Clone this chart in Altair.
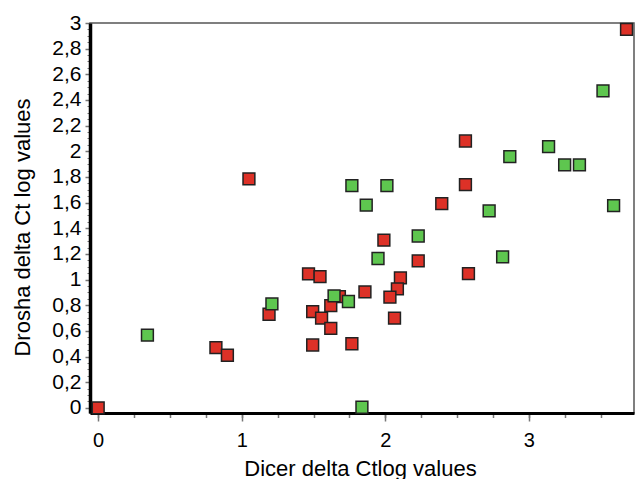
import altair as alt
import pandas as pd
import numpy as np

# Data
red_x = [0.0, 3.68, 1.05, 0.82, 0.90, 1.19, 1.465, 1.545, 1.494, 1.556, 1.494, 2.393, 2.558,
         2.558, 1.99, 2.229, 2.105, 2.084, 1.858, 2.032, 1.68, 1.62, 1.62, 2.064, 1.767, 2.579]
red_y = [0.0, 2.95, 1.785, 0.47, 0.41, 0.73, 1.045, 1.023, 0.75, 0.70, 0.49, 1.592, 2.08,
         1.74, 1.307, 1.146, 1.013, 0.927, 0.904, 0.863, 0.867, 0.797, 0.62, 0.70, 0.50, 1.047]
green_x = [0.343, 1.21, 1.767, 2.011, 1.867, 2.229, 1.949, 1.643, 1.743, 1.837, 3.516, 2.867,
           3.137, 3.249, 3.352, 2.723, 3.59, 2.817]
green_y = [0.567, 0.81, 1.733, 1.733, 1.58, 1.34, 1.164, 0.873, 0.829, 0.005, 2.471, 1.959,
           2.037, 1.894, 1.894, 1.535, 1.577, 1.177]

x_major = [0, 1, 2, 3]
x_minor = [round(v, 2) for v in np.arange(0, 3.75, 0.25)]
y_major = [round(v, 2) for v in np.arange(0, 3.01, 0.2)]
y_minor = [round(v, 2) for v in np.arange(0, 3.01, 0.05)]

df = pd.DataFrame({
    "x": red_x + green_x,
    "y": red_y + green_y,
    "group": ["red"] * len(red_x) + ["green"] * len(green_x),
})

FONT = "Liberation Sans"
xscale = alt.Scale(domain=[-0.057, 3.732], nice=False, zero=False)
yscale = alt.Scale(domain=[-0.04, 3.0], nice=False, zero=False)

points = alt.Chart(df).mark_square(
    size=140, filled=True, opacity=1, stroke="#222222", strokeWidth=1.5
).encode(
    x=alt.X("x:Q", scale=xscale, axis=alt.Axis(
        values=x_major, orient="bottom", grid=False,
        domainColor="black", domainWidth=3,
        tickColor="#777777", tickWidth=1.5, tickSize=8,
        labelFont=FONT, labelFontSize=20, labelColor="black",
        labelBaseline="alphabetic", labelPadding=25,
        title="Dicer delta Ctlog values", titleFont=FONT, titleFontSize=22,
        titleFontWeight="normal", titleColor="black",
        titleX=270, titleY=62, titleBaseline="alphabetic", titleAlign="center",
    )),
    y=alt.Y("y:Q", scale=yscale, axis=alt.Axis(
        values=y_major, orient="left", grid=False,
        domainColor="black", domainWidth=3.5,
        tickColor="#777777", tickWidth=1.5, tickSize=5,
        labelFont=FONT, labelFontSize=21, labelColor="black", labelPadding=4,
        labelExpr="replace(format(datum.value, '.1~f'), '.', ',')",
        title="Drosha delta Ct log values", titleFont=FONT, titleFontSize=22,
        titleFontWeight="normal", titleColor="black",
        titleX=-61, titleY=204, titleBaseline="alphabetic", titleAlign="center",
        titleAngle=270,
    )),
    color=alt.Color("group:N", scale=alt.Scale(domain=["red", "green"],
                                               range=["#dd3127", "#5ec64f"]), legend=None),
)

minor = alt.Chart(df).mark_point(opacity=0).encode(
    x=alt.X("x:Q", scale=xscale, axis=alt.Axis(
        values=x_minor, orient="bottom", labels=False, domain=False, grid=False,
        tickColor="#777777", tickWidth=1.5, tickSize=4.5, title=None)),
    y=alt.Y("y:Q", scale=yscale, axis=alt.Axis(
        values=y_minor, orient="left", labels=False, domain=False, grid=False,
        tickColor="#777777", tickWidth=1, tickSize=3, title=None)),
)

chart = alt.layer(minor, points).resolve_axis(x="independent", y="independent").properties(
    width=544, height=390,
    autosize=alt.AutoSizeParams(type="none"),
    padding={"left": 82, "top": 15, "right": 1, "bottom": 66},
).configure_view(stroke="#555555", strokeWidth=1.5)

chart.save("out.html", embed_options={"renderer": "svg", "actions": False})
